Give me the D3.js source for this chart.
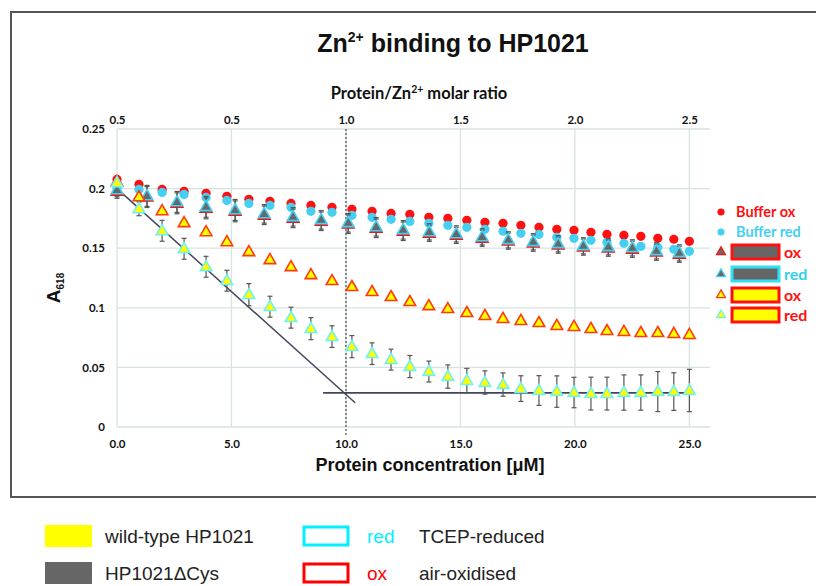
<!DOCTYPE html>
<html>
<head>
<meta charset="utf-8">
<script src="https://cdn.jsdelivr.net/npm/d3@7/dist/d3.min.js"></script>
<style>
  body { margin: 0; background: #fff; }
  .tick-label { font-family: Lato, "Open Sans", sans-serif; font-weight: bold; font-size: 11.5px; fill: #111; }
</style>
</head>
<body>
<svg id="chart" width="816" height="586"></svg>
<script>
// protein concentration (uM) for buffer + wild-type titrations
const concX = [0, 0.96, 1.97, 2.93, 3.89, 4.80, 5.76, 6.68, 7.60, 8.47, 9.39, 10.26, 11.14, 11.97, 12.79,
  13.62, 14.45, 15.28, 16.07, 16.86, 17.64, 18.43, 19.21, 19.96, 20.70, 21.40, 22.14, 22.88, 23.62, 24.32, 25.0];
const bufferOx = [0.2077, 0.2035, 0.1993, 0.1977, 0.196, 0.1935, 0.191, 0.1893, 0.1876, 0.1859, 0.1843, 0.1826,
  0.1809, 0.1792, 0.1784, 0.1759, 0.1751, 0.1734, 0.1717, 0.1709, 0.1692, 0.1675, 0.1658, 0.165, 0.1633, 0.1616,
  0.1608, 0.16, 0.1583, 0.1575, 0.1558];
const bufferRed = [0.2002, 0.1993, 0.1968, 0.1951, 0.1926, 0.1901, 0.1876, 0.1859, 0.1843, 0.1809, 0.1801, 0.1776,
  0.1759, 0.1742, 0.1725, 0.1709, 0.1692, 0.1675, 0.1658, 0.1642, 0.1625, 0.1616, 0.1591, 0.1583, 0.1566, 0.155,
  0.1541, 0.1516, 0.1508, 0.1491, 0.1474];
const wtOx = [0.2052, 0.1926, 0.1809, 0.1709, 0.1633, 0.1549, 0.1466, 0.1399, 0.134, 0.1273, 0.1223, 0.1173, 0.1131,
  0.1089, 0.1047, 0.1013, 0.0988, 0.0955, 0.093, 0.0905, 0.0888, 0.0871, 0.0846, 0.0838, 0.0821, 0.0804, 0.0796,
  0.0787, 0.0787, 0.0779, 0.0771];
const wtRed = [0.2044, 0.1826, 0.1642, 0.1491, 0.134, 0.1223, 0.1106, 0.1005, 0.0913, 0.0821, 0.0754, 0.067, 0.0611,
  0.0561, 0.0503, 0.0461, 0.0419, 0.0385, 0.0369, 0.0352, 0.0318, 0.0302, 0.0293, 0.0285, 0.0276, 0.0276, 0.0285,
  0.0285, 0.0293, 0.0293, 0.0302];
const wtRedErr = [0, 0.002, 0.005, 0.005, 0.005, 0.005, 0.0055, 0.005, 0.005, 0.0055, 0.0053, 0.0055, 0.0053, 0.005,
  0.0055, 0.005, 0.006, 0.0065, 0.006, 0.006, 0.007, 0.0087, 0.0094, 0.009, 0.01, 0.01, 0.011, 0.011, 0.013, 0.012, 0.014];

// HP1021dCys titration
const cysX = [0, 1.31, 2.62, 3.89, 5.16, 6.43, 7.69, 8.92, 10.10, 11.32, 12.50, 13.64, 14.82, 15.95, 17.09, 18.18,
  19.27, 20.37, 21.46, 22.51, 23.56, 24.56];
const cysOx = [0.1972, 0.1925, 0.1872, 0.183, 0.1805, 0.1772, 0.1746, 0.1722, 0.1697, 0.1663, 0.1638, 0.1621, 0.1604,
  0.1579, 0.1555, 0.1538, 0.1521, 0.1505, 0.1496, 0.1487, 0.1462, 0.1445];
const cysRed = [0.1985, 0.1935, 0.1884, 0.1843, 0.1817, 0.1784, 0.1759, 0.1734, 0.1709, 0.1675, 0.165, 0.1633, 0.1616,
  0.1591, 0.1566, 0.155, 0.1533, 0.1516, 0.1508, 0.1499, 0.1474, 0.1457];
const cysErr = [0.002, 0.005, 0.005, 0.005, 0.005, 0.004, 0.004, 0.004, 0.004, 0.004, 0.004, 0.003, 0.003, 0.003,
  0.003, 0.003, 0.003, 0.003, 0.003, 0.003, 0.003, 0.003];

// fit lines
const slopeX = [0, 10.4];
const slopeY = [0.2, 0.0203];
const plateauX = [9, 25];
const plateauY = [0.0287, 0.0287];
const stoichX = 10;

const xTicks = [0, 5, 10, 15, 20, 25];
const xTickLabels = ["0.0", "5.0", "10.0", "15.0", "20.0", "25.0"];
const ratioTickLabels = ["0.5", "0.5", "1.0", "1.5", "2.0", "2.5"];
const yTicks = [0, 0.05, 0.1, 0.15, 0.2, 0.25];
const yTickLabels = ["0", "0.05", "0.1", "0.15", "0.2", "0.25"];

const legendLabels = ["Buffer ox", "Buffer red", "ox", "red", "ox", "red"];
const bottomLabels = ["wild-type HP1021", "HP1021\u0394Cys"];
const bottomStateLabels = ["red", "ox"];
const bottomStateNames = ["TCEP-reduced", "air-oxidised"];

const RED = "#ff1010", CYAN = "#45d0f2", GRAY = "#626a6c", YELLOW = "#ffff00";

const svg = d3.select("#chart");

// outer frame
svg.append("rect").attr("x", 11).attr("y", 12).attr("width", 830).attr("height", 485)
  .attr("fill", "none").attr("stroke", "#555").attr("stroke-width", 2);

const xScale = d3.scaleLinear().domain([0, 25.9]).range([117, 710]);
const yScale = d3.scaleLinear().domain([0, 0.25]).range([427, 129]);

// grid
const grid = svg.append("g").attr("stroke", "#d8e2e2").attr("stroke-width", 1.3);
grid.selectAll(".vgrid").data(xTicks).enter().append("line")
  .attr("x1", d => xScale(d)).attr("x2", d => xScale(d))
  .attr("y1", yScale(0.25)).attr("y2", yScale(0));
grid.selectAll(".hgrid").data(yTicks).enter().append("line")
  .attr("x1", xScale(0)).attr("x2", xScale(25.9))
  .attr("y1", d => yScale(d)).attr("y2", d => yScale(d));

// axes (labels only)
const xAxis = d3.axisBottom(xScale).tickValues(xTicks).tickSize(0).tickPadding(13)
  .tickFormat((d, i) => xTickLabels[i]);
const topAxis = d3.axisTop(xScale).tickValues(xTicks).tickSize(0).tickPadding(5)
  .tickFormat((d, i) => ratioTickLabels[i]);
const yAxis = d3.axisLeft(yScale).tickValues(yTicks).tickSize(0).tickPadding(12)
  .tickFormat((d, i) => yTickLabels[i]);

svg.append("g").attr("transform", `translate(0,${yScale(0)})`).call(xAxis);
svg.append("g").attr("transform", `translate(0,${yScale(0.25)})`).call(topAxis);
svg.append("g").attr("transform", `translate(${xScale(0)},0)`).call(yAxis);
svg.selectAll(".domain").remove();
svg.selectAll(".tick text").attr("class", "tick-label").attr("font-family", null).attr("font-size", null);

// stoichiometry marker
svg.append("line")
  .attr("x1", xScale(stoichX)).attr("x2", xScale(stoichX))
  .attr("y1", yScale(0.25)).attr("y2", yScale(0) + 8)
  .attr("stroke", "#555").attr("stroke-width", 1.3).attr("stroke-dasharray", "2,2");

// fit lines
const fitLine = d3.line().x(d => xScale(d[0])).y(d => yScale(d[1]));
svg.append("path").datum(d3.zip(slopeX, slopeY)).attr("d", fitLine)
  .attr("fill", "none").attr("stroke", "#44445e").attr("stroke-width", 1.5);
svg.append("path").datum(d3.zip(plateauX, plateauY)).attr("d", fitLine)
  .attr("fill", "none").attr("stroke", "#44445e").attr("stroke-width", 1.8);

const triangle = d3.symbol().type(d3.symbolTriangle).size(58);
const smallTriangle = d3.symbol().type(d3.symbolTriangle).size(34);

function drawErrors(xs, ys, errs) {
  const g = svg.append("g").attr("stroke", "#555").attr("stroke-width", 1.2);
  xs.forEach((xv, i) => {
    if (!errs[i]) return;
    const cx = xScale(xv);
    const top = yScale(ys[i] + errs[i]) - 5, bot = yScale(ys[i] - errs[i]) + 4;
    g.append("line").attr("x1", cx).attr("x2", cx).attr("y1", top).attr("y2", bot);
    g.append("line").attr("x1", cx - 2.5).attr("x2", cx + 2.5).attr("y1", top).attr("y2", top);
    g.append("line").attr("x1", cx - 2.5).attr("x2", cx + 2.5).attr("y1", bot).attr("y2", bot);
  });
}

function drawCircles(xs, ys, color) {
  svg.append("g").selectAll("circle").data(ys).enter().append("circle")
    .attr("cx", (d, i) => xScale(xs[i])).attr("cy", d => yScale(d))
    .attr("r", 4.6).attr("fill", color);
}

function drawTriangles(xs, ys, fill, stroke) {
  svg.append("g").selectAll("path").data(ys).enter().append("path")
    .attr("d", triangle)
    .attr("transform", (d, i) => `translate(${xScale(xs[i])},${yScale(d)})`)
    .attr("fill", fill).attr("stroke", stroke).attr("stroke-width", 1.6);
}

drawCircles(concX, bufferOx, RED);
drawCircles(concX, bufferRed, CYAN);
drawErrors(cysX, cysOx, cysErr);
drawTriangles(cysX, cysOx, GRAY, RED);
drawErrors(cysX, cysRed, cysErr);
drawTriangles(cysX, cysRed, GRAY, CYAN);
drawTriangles(concX, wtOx, YELLOW, "#ff3a10");
drawErrors(concX, wtRed, wtRedErr);
drawTriangles(concX, wtRed, YELLOW, "#6ff0f5");

// titles
const title = svg.append("text").attr("x", 453).attr("y", 52).attr("text-anchor", "middle")
  .attr("font-family", "Liberation Sans, Arial, sans-serif").attr("font-weight", "bold").attr("font-size", 25).attr("fill", "#111");
title.append("tspan").text("Zn");
title.append("tspan").attr("font-size", 14).attr("dy", -10).text("2+");
title.append("tspan").attr("dy", 10).text(" binding to HP1021");

const ratioTitle = svg.append("text").attr("x", 419).attr("y", 99).attr("text-anchor", "middle")
  .attr("font-family", "Lato, sans-serif").attr("font-weight", "bold").attr("font-size", 16.5).attr("fill", "#111");
ratioTitle.append("tspan").text("Protein/Zn");
ratioTitle.append("tspan").attr("font-size", 10.5).attr("dy", -6).text("2+");
ratioTitle.append("tspan").attr("dy", 6).text(" molar ratio");

svg.append("text").attr("x", 430).attr("y", 471).attr("text-anchor", "middle")
  .attr("font-family", "Liberation Sans, Arial, sans-serif").attr("font-weight", "bold").attr("font-size", 18).attr("fill", "#111")
  .text("Protein concentration [\u03bcM]");

const yTitle = svg.append("text").attr("transform", "translate(60,288) rotate(-90)").attr("text-anchor", "middle")
  .attr("font-family", "Liberation Sans, Arial, sans-serif").attr("font-weight", "bold").attr("fill", "#111");
yTitle.append("tspan").attr("font-size", 19).text("A");
yTitle.append("tspan").attr("font-size", 10).attr("dy", 4).text("618");

// right legend
const legendY = [212, 232, 252, 274, 295, 315];
const legendMarker = [
  {type: "circle", fill: RED}, {type: "circle", fill: CYAN},
  {type: "tri", fill: GRAY, stroke: RED}, {type: "tri", fill: GRAY, stroke: CYAN},
  {type: "tri", fill: YELLOW, stroke: "#ff3a10"}, {type: "tri", fill: YELLOW, stroke: "#6ff0f5"}
];
const legend = svg.append("g");
legendLabels.forEach((label, i) => {
  const m = legendMarker[i];
  const ly = legendY[i];
  if (m.type === "circle") {
    legend.append("circle").attr("cx", 721).attr("cy", ly).attr("r", 3.6).attr("fill", m.fill);
    legend.append("text").attr("x", 736).attr("y", ly + 5).attr("fill", m.fill)
      .attr("font-family", "Lato, sans-serif").attr("font-weight", "bold").attr("font-size", 14.5).text(label);
  } else {
    legend.append("path").attr("d", smallTriangle).attr("transform", `translate(721,${ly})`)
      .attr("fill", m.fill).attr("stroke", m.stroke).attr("stroke-width", 1.3);
    legend.append("rect").attr("x", 732).attr("y", ly - 7).attr("width", 47).attr("height", 14)
      .attr("fill", m.fill === GRAY ? "#666" : m.fill).attr("stroke", m.stroke === CYAN ? "#30e0f0" : "#ff1010").attr("stroke-width", 3);
    legend.append("text").attr("x", 784).attr("y", ly + 6).attr("fill", m.stroke === CYAN ? "#30d0f0" : "#ff1010")
      .attr("font-family", "Lato, sans-serif").attr("font-weight", "bold").attr("font-size", 16).text(label);
  }
});

// bottom legend
const bottomRowY = [536, 573];
const bottomFill = [YELLOW, "#666"];
const bottomStroke = ["#00f0ff", "#ff0000"];
bottomLabels.forEach((label, i) => {
  const cy = bottomRowY[i];
  svg.append("rect").attr("x", 45).attr("y", cy - 11).attr("width", 47).attr("height", 22).attr("fill", bottomFill[i]);
  svg.append("text").attr("x", 105).attr("y", cy + 7).attr("font-family", "Liberation Sans, Arial, sans-serif")
    .attr("font-size", 19).attr("fill", "#222").text(label);
  svg.append("rect").attr("x", 304).attr("y", cy - 9).attr("width", 44).attr("height", 18)
    .attr("fill", "none").attr("stroke", bottomStroke[i]).attr("stroke-width", 3);
  svg.append("text").attr("x", 367).attr("y", cy + 7).attr("font-family", "Liberation Sans, Arial, sans-serif")
    .attr("font-size", 19).attr("fill", bottomStroke[i]).text(bottomStateLabels[i]);
  svg.append("text").attr("x", 419).attr("y", cy + 7).attr("font-family", "Liberation Sans, Arial, sans-serif")
    .attr("font-size", 19).attr("fill", "#222").text(bottomStateNames[i]);
});
</script>
</body>
</html>
